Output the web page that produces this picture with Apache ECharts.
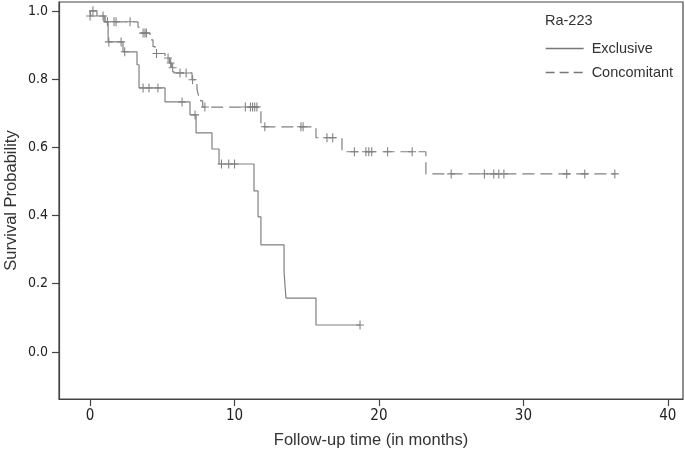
<!DOCTYPE html>
<html><head><meta charset="utf-8">
<script src="https://cdn.jsdelivr.net/npm/echarts@6/dist/echarts.min.js"></script>
<style>html,body{margin:0;padding:0;background:#fff}#c{width:685px;height:456px}</style>
</head><body><div id="c"></div>
<script>
// Exclusive (solid) Kaplan-Meier steps
const exclTimes = [0, 0.05, 1.04, 1.25, 2.28, 3.25, 3.39, 5.19, 6.92, 7.34, 8.44, 8.93, 11.35, 11.63, 11.83, 13.43, 13.56, 15.64, 18.69];
const exclSurv  = [1.0, 0.985, 0.968, 0.909, 0.88, 0.842, 0.774, 0.733, 0.695, 0.642, 0.595, 0.551, 0.472, 0.396, 0.314, 0.235, 0.158, 0.079, 0.079];
const exclCensorTimes = [0.0, 1.3, 2.15, 2.4, 3.67, 4.08, 4.7, 6.37, 7.27, 9.1, 9.6, 10.0, 18.69];
const exclCensorSurv  = [0.985, 0.909, 0.909, 0.88, 0.774, 0.774, 0.774, 0.733, 0.695, 0.551, 0.551, 0.551, 0.079];

// Concomitant (dashed) Kaplan-Meier steps
const concTimes = [0, 0.48, 0.97, 3.32, 3.46, 4.15, 4.36, 4.5, 5.19, 5.5, 5.65, 5.8, 7.06, 7.4, 7.5, 7.65, 7.8, 11.83, 15.64, 17.44, 23.25, 36.33];
const concSurv  = [1.0, 0.985, 0.968, 0.952, 0.935, 0.915, 0.895, 0.875, 0.862, 0.847, 0.833, 0.818, 0.798, 0.772, 0.752, 0.736, 0.718, 0.66, 0.628, 0.587, 0.522, 0.522];
const concCensorTimes = [0.2, 0.9, 1.2, 1.66, 1.8, 2.77, 3.67, 3.8, 3.9, 4.6, 5.4, 5.58, 5.72, 6.23, 6.65, 7.1, 7.95, 10.75, 11.1, 11.25, 11.4, 11.55, 12.1, 14.6, 14.75, 16.4, 16.8, 18.3, 19.1, 19.3, 19.5, 20.6, 22.3, 25.0, 27.3, 27.95, 28.3, 28.65, 33.0, 34.25, 36.33];
const concCensorSurv  = [1.0, 0.985, 0.968, 0.968, 0.968, 0.968, 0.935, 0.935, 0.935, 0.875, 0.862, 0.847, 0.833, 0.818, 0.818, 0.798, 0.718, 0.718, 0.718, 0.718, 0.718, 0.718, 0.66, 0.66, 0.66, 0.628, 0.628, 0.587, 0.587, 0.587, 0.587, 0.587, 0.587, 0.522, 0.522, 0.522, 0.522, 0.522, 0.522, 0.522, 0.522];

const xTicks = [0, 10, 20, 30, 40];
const yTicks = [0, 0.2, 0.4, 0.6, 0.8, 1.0];

const zip = (a, b) => a.map((v, i) => [v, b[i]]);
const lineColor = '#808080';
const plus = 'path://M-0.6,-5H0.6V-0.6H4.5V0.6H0.6V5H-0.6V0.6H-4.5V-0.6H-0.6Z';
const tickFont = "'Liberation Sans Narrow', 'DejaVu Sans Condensed', 'Liberation Sans', sans-serif";
const textFont = "'Liberation Sans', Arial, sans-serif";
const hidden = {color: 'rgba(0,0,0,0)', borderWidth: 0, opacity: 0};

const chart = echarts.init(document.getElementById('c'));
chart.setOption({
  animation: false,
  backgroundColor: '#fff',
  title: {
    text: 'Ra-223', left: 545, top: 13, padding: 0,
    textStyle: {fontFamily: textFont, fontSize: 14.5, fontWeight: 'normal', color: '#333'}
  },
  legend: {
    orient: 'vertical', left: 545, top: 41, padding: 0,
    itemWidth: 38, itemHeight: 14, itemGap: 9,
    textStyle: {fontFamily: textFont, fontSize: 14.5, color: '#333', padding: [0, 0, 0, 3]},
    data: [
      {name: 'Exclusive', lineStyle: {type: 'solid', width: 1.3, color: '#777'}, itemStyle: hidden},
      {name: 'Concomitant', lineStyle: {type: [9, 5], width: 1.3, color: '#777'}, itemStyle: hidden}
    ],
    selectedMode: false
  },
  grid: {left: 59, right: 2, top: 2, bottom: 57, outerBoundsMode: 'none', containLabel: false,
    show: true, borderColor: '#444', borderWidth: 1.2},
  xAxis: {
    type: 'value', min: -2.15, max: 41.05,
    name: 'Follow-up time (in months)', nameLocation: 'middle', nameGap: 33, nameMoveOverlap: false,
    nameTextStyle: {fontFamily: textFont, fontSize: 16.5, color: '#333'},
    axisLine: {show: true, onZero: false, lineStyle: {color: '#444', width: 1.2}},
    axisTick: {show: true, length: 7, customValues: xTicks, lineStyle: {color: '#444', width: 1.2}},
    axisLabel: {customValues: xTicks, margin: 10, fontFamily: tickFont, fontSize: 15, color: '#222'},
    splitLine: {show: false}
  },
  yAxis: {
    type: 'value', min: -0.138, max: 1.026,
    name: 'Survival Probability', nameLocation: 'middle', nameGap: 39, nameMoveOverlap: false,
    nameTextStyle: {fontFamily: textFont, fontSize: 16.5, color: '#333'},
    axisLine: {show: true, onZero: false, lineStyle: {color: '#444', width: 1.2}},
    axisTick: {show: true, length: 7, customValues: yTicks, lineStyle: {color: '#444', width: 1.2}},
    axisLabel: {customValues: yTicks, margin: 11, fontFamily: tickFont, fontSize: 14, color: '#222',
      formatter: v => v.toFixed(1)},
    splitLine: {show: false}
  },
  series: [
    {
      name: 'Exclusive', type: 'line', step: 'end', symbol: 'none',
      data: zip(exclTimes, exclSurv),
      lineStyle: {color: lineColor, width: 1.2, type: 'solid'},
      itemStyle: {color: lineColor}
    },
    {
      name: 'Concomitant', type: 'line', step: 'end', symbol: 'none',
      data: zip(concTimes, concSurv),
      lineStyle: {color: lineColor, width: 1.2, type: [12, 6]},
      itemStyle: {color: lineColor}
    },
    {
      name: 'Exclusive censored', type: 'scatter', symbol: plus, symbolSize: [8, 9], silent: true, z: 3,
      data: zip(exclCensorTimes, exclCensorSurv),
      itemStyle: {color: lineColor, opacity: 1}
    },
    {
      name: 'Concomitant censored', type: 'scatter', symbol: plus, symbolSize: [8, 9], silent: true, z: 3,
      data: zip(concCensorTimes, concCensorSurv),
      itemStyle: {color: lineColor, opacity: 1}
    }
  ]
});
</script>
</body></html>
